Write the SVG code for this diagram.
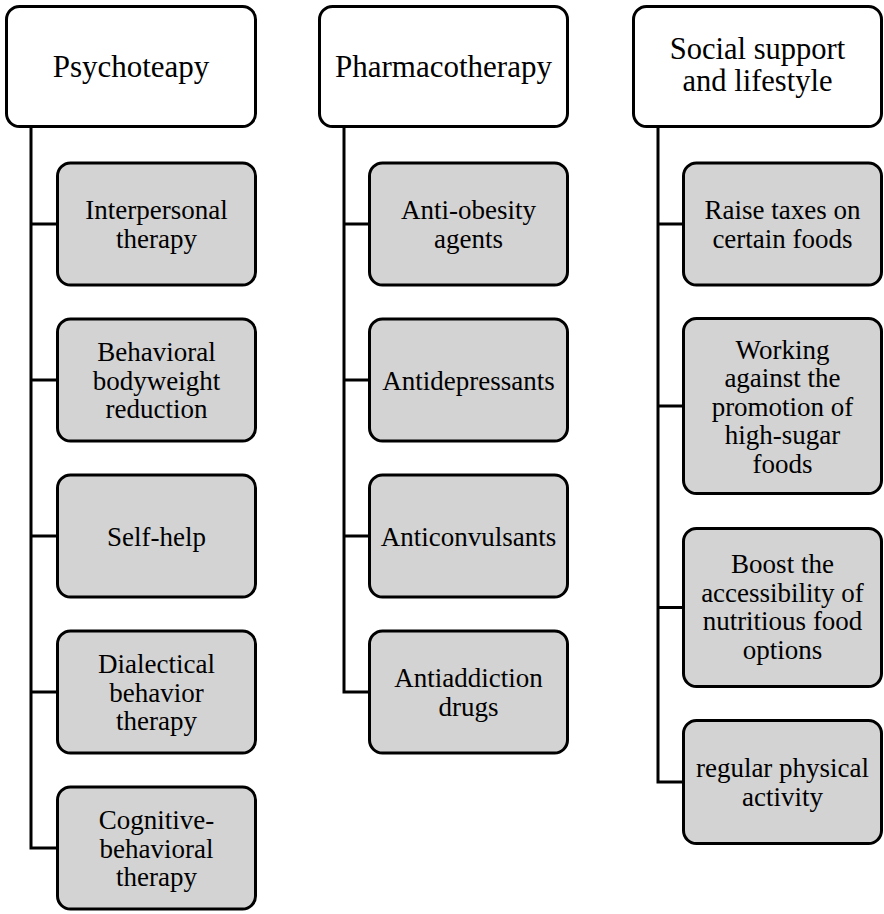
<svg xmlns="http://www.w3.org/2000/svg" width="884" height="914" viewBox="0 0 884 914">
<style>
.hdr{fill:#ffffff;stroke:#000;stroke-width:3}
.box{fill:#d3d3d3;stroke:#000;stroke-width:3}
.ht{font-size:31px;fill:#000;text-anchor:middle}
.bt{font-size:27px;fill:#000;text-anchor:middle}
.con{fill:none;stroke:#000;stroke-width:3;stroke-linejoin:miter}
</style>
<rect width="884" height="914" fill="#fff"/>
<g id="connectors">
<path class="con" d="M31,128 V848 H57.5 M31,224 H57.5 M31,380 H57.5 M31,536 H57.5 M31,692 H57.5"/>
<path class="con" d="M344,128 V692 H369.5 M344,224 H369.5 M344,380 H369.5 M344,536 H369.5"/>
<path class="con" d="M658,128 V782 H683.5 M658,224 H683.5 M658,406 H683.5 M658,607.5 H683.5"/>
</g>
<g font-family="'Liberation Serif', 'DejaVu Serif', serif">
<g id="psychotherapy"><rect class="hdr" x="6.5" y="6.5" width="249" height="120" rx="13"/><text class="ht" x="131" y="77">Psychoteapy</text></g>
<g id="pharmacotherapy"><rect class="hdr" x="319.5" y="6.5" width="248" height="120" rx="13"/><text class="ht" x="443.5" y="77">Pharmacotherapy</text></g>
<g id="social"><rect class="hdr" x="633.5" y="6.5" width="248" height="120" rx="13"/><text class="ht" x="757.5" y="58.5" style="font-size:30.5px">Social support</text><text class="ht" x="757.5" y="91" style="font-size:30.5px">and lifestyle</text></g>

<g id="interpersonal"><rect class="box" x="57.5" y="163" width="198" height="122" rx="13"/><text class="bt" x="156.5" y="219">Interpersonal</text><text class="bt" x="156.5" y="247.5">therapy</text></g>
<g id="behavioral"><rect class="box" x="57.5" y="319" width="198" height="122" rx="13"/><text class="bt" x="156.5" y="361">Behavioral</text><text class="bt" x="156.5" y="389.5">bodyweight</text><text class="bt" x="156.5" y="418">reduction</text></g>
<g id="selfhelp"><rect class="box" x="57.5" y="475" width="198" height="122" rx="13"/><text class="bt" x="156.5" y="545.5">Self-help</text></g>
<g id="dialectical"><rect class="box" x="57.5" y="631" width="198" height="122" rx="13"/><text class="bt" x="156.5" y="673">Dialectical</text><text class="bt" x="156.5" y="701.5">behavior</text><text class="bt" x="156.5" y="730">therapy</text></g>
<g id="cbt"><rect class="box" x="57.5" y="787" width="198" height="122" rx="13"/><text class="bt" x="156.5" y="829">Cognitive-</text><text class="bt" x="156.5" y="857.5">behavioral</text><text class="bt" x="156.5" y="886">therapy</text></g>

<g id="antiobesity"><rect class="box" x="369.5" y="163" width="198" height="122" rx="13"/><text class="bt" x="468.5" y="219">Anti-obesity</text><text class="bt" x="468.5" y="247.5">agents</text></g>
<g id="antidepressants"><rect class="box" x="369.5" y="319" width="198" height="122" rx="13"/><text class="bt" x="468.5" y="389.5">Antidepressants</text></g>
<g id="anticonvulsants"><rect class="box" x="369.5" y="475" width="198" height="122" rx="13"/><text class="bt" x="468.5" y="545.5">Anticonvulsants</text></g>
<g id="antiaddiction"><rect class="box" x="369.5" y="631" width="198" height="122" rx="13"/><text class="bt" x="468.5" y="687">Antiaddiction</text><text class="bt" x="468.5" y="715.5">drugs</text></g>

<g id="taxes"><rect class="box" x="683.5" y="163" width="198" height="122" rx="13"/><text class="bt" x="782.5" y="219">Raise taxes on</text><text class="bt" x="782.5" y="247.5">certain foods</text></g>
<g id="working"><rect class="box" x="683.5" y="318.5" width="198" height="175" rx="13"/><text class="bt" x="782.5" y="358.5">Working</text><text class="bt" x="782.5" y="387">against the</text><text class="bt" x="782.5" y="415.5">promotion of</text><text class="bt" x="782.5" y="444">high-sugar</text><text class="bt" x="782.5" y="472.5">foods</text></g>
<g id="boost"><rect class="box" x="683.5" y="528.5" width="198" height="158" rx="13"/><text class="bt" x="782.5" y="573">Boost the</text><text class="bt" x="782.5" y="601.5">accessibility of</text><text class="bt" x="782.5" y="630">nutritious food</text><text class="bt" x="782.5" y="658.5">options</text></g>
<g id="physical"><rect class="box" x="683.5" y="720.5" width="198" height="123" rx="13"/><text class="bt" x="782.5" y="777">regular physical</text><text class="bt" x="782.5" y="805.5">activity</text></g>
</g>
</svg>
